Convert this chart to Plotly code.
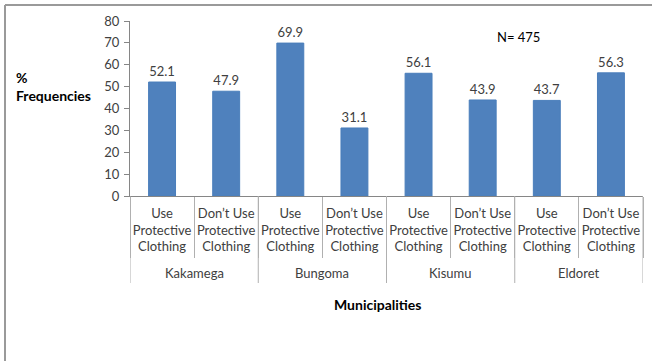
import plotly.graph_objects as go

municipalities = ["Kakamega", "Bungoma", "Kisumu", "Eldoret"]
practice = ["Use<br>Protective<br>Clothing", "Don\u2019t Use<br>Protective<br>Clothing"]
values = [52.1, 47.9, 69.9, 31.1, 56.1, 43.9, 43.7, 56.3]
y_ticks = [0, 10, 20, 30, 40, 50, 60, 70, 80]

labels = practice * len(municipalities)
xpos = list(range(len(values)))

W, H = 652, 361
ML, MR, MT, MB = 130, 9, 21, 165
PW, PH = W - ML - MR, H - MT - MB

def px(x):
    return (x - ML) / PW

def py(y):
    return (H - MB - y) / PH

FONT = "Lato"
fig = go.Figure()
fig.add_trace(go.Bar(
    x=xpos,
    y=values,
    width=0.42,
    marker=dict(color="#4F81BD", line=dict(color="#4A7EBB", width=1)),
    text=[f"{v:.1f}" for v in values],
    textposition="outside",
    textfont=dict(family=FONT, size=13, color="#404040"),
    cliponaxis=False,
))

fig.update_layout(
    width=W, height=H,
    margin=dict(l=ML, r=MR, t=MT, b=MB, pad=0),
    plot_bgcolor="white", paper_bgcolor="white",
    showlegend=False,
    font=dict(family=FONT, size=13, color="#404040"),
    xaxis=dict(
        range=[-0.5, len(values) - 0.5],
        tickvals=xpos, ticktext=labels,
        showline=True, linecolor="#868686", linewidth=1,
        ticks="outside", ticklen=5, tickcolor="rgba(0,0,0,0)",
        minor=dict(tick0=-0.5, dtick=1, ticks="outside", ticklen=61,
                   tickcolor="#B0B0B0", tickwidth=1, showgrid=False),
        tickfont=dict(family=FONT, size=13, color="#404040"),
        showgrid=False, zeroline=False, fixedrange=True,
    ),
    yaxis=dict(
        range=[0, 80], tickvals=y_ticks,
        showline=True, linecolor="#868686", linewidth=1,
        ticks="outside", ticklen=5, tickcolor="#868686",
        ticklabelstandoff=2,
        showgrid=False, zeroline=False,
        tickfont=dict(family=FONT, size=13, color="#404040"),
    ),
)

# group (municipality) labels and dividers
for i, m in enumerate(municipalities):
    fig.add_annotation(x=2 * i + 0.5, xref="x", y=py(273), yref="paper",
                       text=m, showarrow=False, xanchor="center", yanchor="middle",
                       font=dict(family=FONT, size=13, color="#404040"))
for i in range(len(municipalities) + 1):
    fig.add_shape(type="line", xref="x", yref="paper",
                  x0=2 * i - 0.5, x1=2 * i - 0.5, y0=py(196), y1=py(283),
                  line=dict(color="#B0B0B0", width=1))

fig.add_annotation(x=px(14), y=py(86), xref="paper", yref="paper",
                   text="<b>%<br>Frequencies</b>", showarrow=False, align="left",
                   xanchor="left", yanchor="middle",
                   font=dict(family=FONT, size=14, color="#000000"))
fig.add_annotation(x=px(518), y=py(37), xref="paper", yref="paper",
                   text="N= 475", showarrow=False,
                   xanchor="center", yanchor="middle",
                   font=dict(family=FONT, size=13, color="#000000"))
fig.add_annotation(x=px(377), y=py(304), xref="paper", yref="paper",
                   text="<b>Municipalities</b>", showarrow=False,
                   xanchor="center", yanchor="middle",
                   font=dict(family=FONT, size=14, color="#000000"))

# outer frame (cropped on right/bottom)
fig.add_shape(type="line", xref="paper", yref="paper",
              x0=px(5), x1=px(W + 5), y0=py(5), y1=py(5),
              line=dict(color="#9A9A9A", width=2))
fig.add_shape(type="line", xref="paper", yref="paper",
              x0=px(5), x1=px(5), y0=py(5), y1=py(H + 5),
              line=dict(color="#9A9A9A", width=2))

fig.write_html("out.html")
